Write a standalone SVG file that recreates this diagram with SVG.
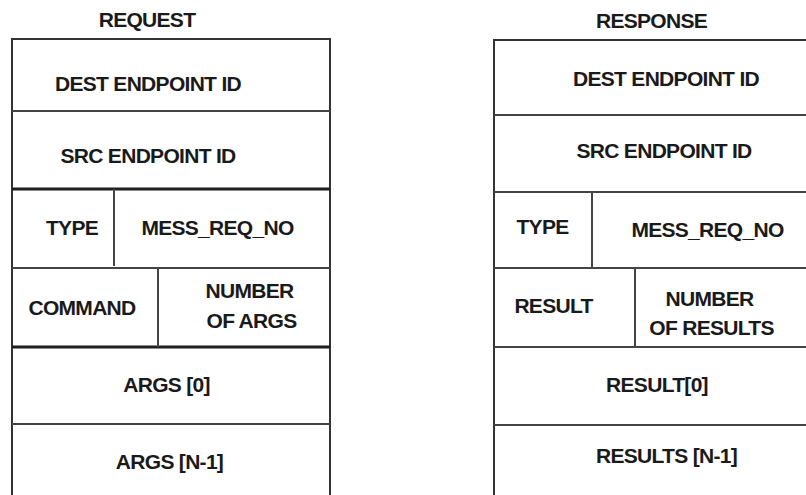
<svg xmlns="http://www.w3.org/2000/svg" width="806" height="495" viewBox="0 0 806 495">
  <style>
    .bg { fill: #ffffff; }
    .frame { fill: none; stroke: #333333; stroke-width: 2; }
    .rule { stroke: #444444; stroke-width: 2; }
    .rule-heavy { stroke: #1e1e1e; stroke-width: 3; }
    .lbl { font-family: "Liberation Sans", Arial, sans-serif; font-weight: bold; font-size: 21px; letter-spacing: -0.7px; fill: #1a1a1a; text-anchor: middle; }
  </style>
  <rect class="bg" x="0" y="0" width="806" height="495"/>

  <!-- Request packet layout -->
  <g id="request">
    <text class="lbl" x="147" y="27">REQUEST</text>
    <path class="frame" d="M12,498 V39 H330 V498"/>
    <line class="rule" x1="12" y1="111" x2="330" y2="111"/>
    <line class="rule-heavy" x1="12" y1="189" x2="330" y2="189"/>
    <line class="rule" x1="12" y1="268" x2="330" y2="268"/>
    <line class="rule-heavy" x1="12" y1="347" x2="330" y2="347"/>
    <line class="rule" x1="12" y1="424" x2="330" y2="424"/>
    <line class="rule" x1="114" y1="189" x2="114" y2="266"/>
    <line class="rule" x1="158" y1="268" x2="158" y2="347"/>
    <g id="req-dest"><text class="lbl" x="148" y="91">DEST ENDPOINT ID</text></g>
    <g id="req-src"><text class="lbl" x="148" y="163">SRC ENDPOINT ID</text></g>
    <g id="req-type"><text class="lbl" x="72" y="235">TYPE</text></g>
    <g id="req-messno"><text class="lbl" x="217.5" y="235">MESS_REQ_NO</text></g>
    <g id="req-command"><text class="lbl" x="82" y="315">COMMAND</text></g>
    <g id="req-nargs">
      <text class="lbl" x="249.5" y="298">NUMBER</text>
      <text class="lbl" x="251.5" y="328">OF ARGS</text>
    </g>
    <g id="req-args0"><text class="lbl" x="166.5" y="392">ARGS [0]</text></g>
    <g id="req-argsn"><text class="lbl" x="169.5" y="469">ARGS [N-1]</text></g>
  </g>

  <!-- Response packet layout -->
  <g id="response">
    <text class="lbl" x="651.5" y="28">RESPONSE</text>
    <path class="frame" d="M494,498 V40 H810"/>
    <line class="rule" x1="494" y1="115" x2="810" y2="115"/>
    <line class="rule" x1="494" y1="192" x2="810" y2="192"/>
    <line class="rule" x1="494" y1="268" x2="810" y2="268"/>
    <line class="rule" x1="494" y1="347" x2="810" y2="347"/>
    <line class="rule" x1="494" y1="425" x2="810" y2="425"/>
    <line class="rule" x1="592" y1="192" x2="592" y2="268"/>
    <line class="rule" x1="635" y1="268" x2="635" y2="347"/>
    <g id="res-dest"><text class="lbl" x="666" y="86">DEST ENDPOINT ID</text></g>
    <g id="res-src"><text class="lbl" x="664" y="158">SRC ENDPOINT ID</text></g>
    <g id="res-type"><text class="lbl" x="542.5" y="234">TYPE</text></g>
    <g id="res-messno"><text class="lbl" x="707.5" y="237">MESS_REQ_NO</text></g>
    <g id="res-result"><text class="lbl" x="553.5" y="313">RESULT</text></g>
    <g id="res-nresults">
      <text class="lbl" x="709.5" y="306">NUMBER</text>
      <text class="lbl" x="711.5" y="335">OF RESULTS</text>
    </g>
    <g id="res-result0"><text class="lbl" x="657" y="392">RESULT[0]</text></g>
    <g id="res-resultn"><text class="lbl" x="666.5" y="463">RESULTS [N-1]</text></g>
  </g>
</svg>
